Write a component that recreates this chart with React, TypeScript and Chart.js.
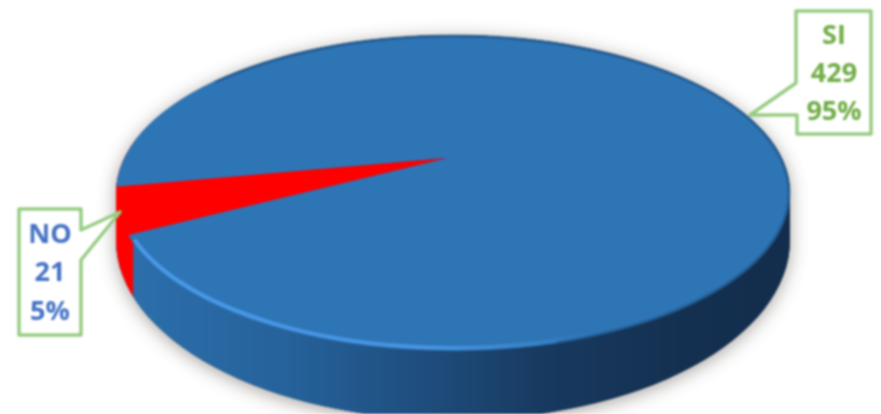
import React, { useEffect, useRef } from "react";
import { Chart, registerables } from "chart.js";

Chart.register(...registerables);

const categories = ["SI", "NO"];
const counts = [429, 21];
const percents = ["95%", "5%"];
const sliceColors = ["#2e75b6", "#ff0000"];
const labelColors = ["#70ad47", "#4472c4"];

const TOP = { x: 453, y: 193, rx: 337, ry: 158 };
const BOTTOM = { x: 453, y: 240, rx: 337, ry: 180 };
const APEX = { x: 447, y: 158 };
const K = TOP.ry / TOP.rx;
const FONT = 'bold 27px "Open Sans", sans-serif';
const GREEN = "#97cc83";

const ellipsePath = (ctx: CanvasRenderingContext2D, e: typeof TOP) => {
  ctx.moveTo(e.x + e.rx, e.y);
  ctx.ellipse(e.x, e.y, e.rx, e.ry, 0, 0, Math.PI * 2);
};

const bodyPath = (ctx: CanvasRenderingContext2D) => {
  ctx.beginPath();
  ellipsePath(ctx, TOP);
  ellipsePath(ctx, BOTTOM);
  ctx.moveTo(TOP.x - TOP.rx, TOP.y);
  ctx.lineTo(TOP.x + TOP.rx, TOP.y);
  ctx.lineTo(BOTTOM.x + BOTTOM.rx, BOTTOM.y);
  ctx.lineTo(BOTTOM.x - BOTTOM.rx, BOTTOM.y);
  ctx.closePath();
};

// Where a slice edge leaving the apex meets the rim of the top face.
const rimX = (angle: number) => {
  const dx = Math.cos(angle);
  const dy = K * Math.sin(angle);
  const ox = (APEX.x - TOP.x) / TOP.rx;
  const oy = (APEX.y - TOP.y) / TOP.ry;
  const ax = dx / TOP.rx;
  const ay = dy / TOP.ry;
  const a = ax * ax + ay * ay;
  const b = 2 * (ox * ax + oy * ay);
  const c = ox * ox + oy * oy - 1;
  const t = (-b + Math.sqrt(b * b - 4 * a * c)) / (2 * a);
  return APEX.x + t * dx;
};

const callout = (
  ctx: CanvasRenderingContext2D,
  points: number[][],
  lines: string[],
  cx: number,
  ys: number[],
  color: string
) => {
  ctx.beginPath();
  points.forEach(([x, y], i) => (i ? ctx.lineTo(x, y) : ctx.moveTo(x, y)));
  ctx.closePath();
  ctx.fillStyle = "#ffffff";
  ctx.fill();
  ctx.strokeStyle = GREEN;
  ctx.lineWidth = 3.5;
  ctx.lineJoin = "round";
  ctx.stroke();
  ctx.fillStyle = color;
  ctx.font = FONT;
  ctx.textAlign = "center";
  ctx.textBaseline = "middle";
  lines.forEach((t, i) => ctx.fillText(t, cx, ys[i]));
};

const pie3d = {
  id: "pie3d",
  beforeDatasetsDraw(chart: any) {
    const ctx: CanvasRenderingContext2D = chart.ctx;
    const arcs = chart.getDatasetMeta(0).data;

    // soft ground shadow
    ctx.save();
    ctx.shadowColor = "rgba(60,50,40,0.45)";
    ctx.shadowBlur = 18;
    ctx.shadowOffsetY = 3;
    ctx.fillStyle = "#1b3f66";
    bodyPath(ctx);
    ctx.fill();
    ctx.restore();

    // side wall
    ctx.save();
    bodyPath(ctx);
    ctx.clip();
    const g = ctx.createLinearGradient(TOP.x - TOP.rx, 0, TOP.x + TOP.rx, 0);
    g.addColorStop(0, "#2c70ad");
    g.addColorStop(0.25, "#26629b");
    g.addColorStop(0.44, "#1f4f80");
    g.addColorStop(0.64, "#18395f");
    g.addColorStop(0.85, "#143050");
    g.addColorStop(1, "#132d4c");
    ctx.fillStyle = g;
    ctx.fillRect(0, 0, chart.width, chart.height);
    ctx.fillStyle = sliceColors[1];
    ctx.fillRect(0, 0, rimX(arcs[1].startAngle) + 5, chart.height);
    ctx.restore();

    // top face: the library's arcs, squashed about the apex and trimmed to the rim
    const { x, y, outerRadius } = arcs[0];
    const s = 460 / outerRadius;
    ctx.save();
    ctx.beginPath();
    ellipsePath(ctx, TOP);
    ctx.clip();
    ctx.translate(APEX.x, APEX.y);
    ctx.scale(s, s * K);
    ctx.translate(-x, -y);
  },
  afterDatasetsDraw(chart: any) {
    const ctx: CanvasRenderingContext2D = chart.ctx;
    ctx.restore();

    // darker soft edge on the back and right of the face
    ctx.beginPath();
    ctx.ellipse(TOP.x, TOP.y, TOP.rx - 1, TOP.ry - 1, 0, Math.PI * 1.25, Math.PI * 2.4);
    ctx.strokeStyle = "rgba(30,75,120,0.55)";
    ctx.lineWidth = 3;
    ctx.stroke();

    // light rim on the front edge
    const rim = ctx.createLinearGradient(135, 0, 600, 0);
    rim.addColorStop(0, "rgba(74,154,232,1)");
    rim.addColorStop(0.65, "rgba(74,154,232,0.85)");
    rim.addColorStop(1, "rgba(74,154,232,0)");
    ctx.beginPath();
    ctx.ellipse(TOP.x, TOP.y - 2, TOP.rx - 2, TOP.ry - 1, 0, Math.PI * 0.3, Math.PI * 0.9);
    ctx.strokeStyle = rim;
    ctx.lineWidth = 4;
    ctx.stroke();

    callout(
      ctx,
      [[796, 11], [871, 11], [871, 134], [797, 134], [797, 115], [750, 115], [796, 83]],
      [categories[0], String(counts[0]), percents[0]],
      834,
      [36, 74, 112],
      labelColors[0]
    );
    callout(
      ctx,
      [[19, 209], [81, 209], [81, 230], [120, 212], [81, 260], [81, 335], [19, 335]],
      [categories[1], String(counts[1]), percents[1]],
      50,
      [235, 273, 312],
      labelColors[1]
    );
  },
};

export default function App() {
  const ref = useRef<HTMLCanvasElement>(null);
  useEffect(() => {
    const chart = new Chart(ref.current!, {
      type: "pie",
      data: {
        labels: categories,
        datasets: [
          { data: counts, backgroundColor: sliceColors, borderWidth: 0, clip: false } as any,
        ],
      },
      options: {
        animation: false,
        responsive: false,
        rotation: 259.5,
        layout: { padding: 0 },
        plugins: { legend: { display: false }, tooltip: { enabled: false } },
      },
      plugins: [pie3d],
    });
    return () => chart.destroy();
  }, []);
  return (
    <div style={{ position: "fixed", left: 0, top: 0, width: 881, height: 414, background: "#fff" }}>
      <canvas ref={ref} width={881} height={414} style={{ display: "block", filter: "blur(1px)" }} />
    </div>
  );
}
